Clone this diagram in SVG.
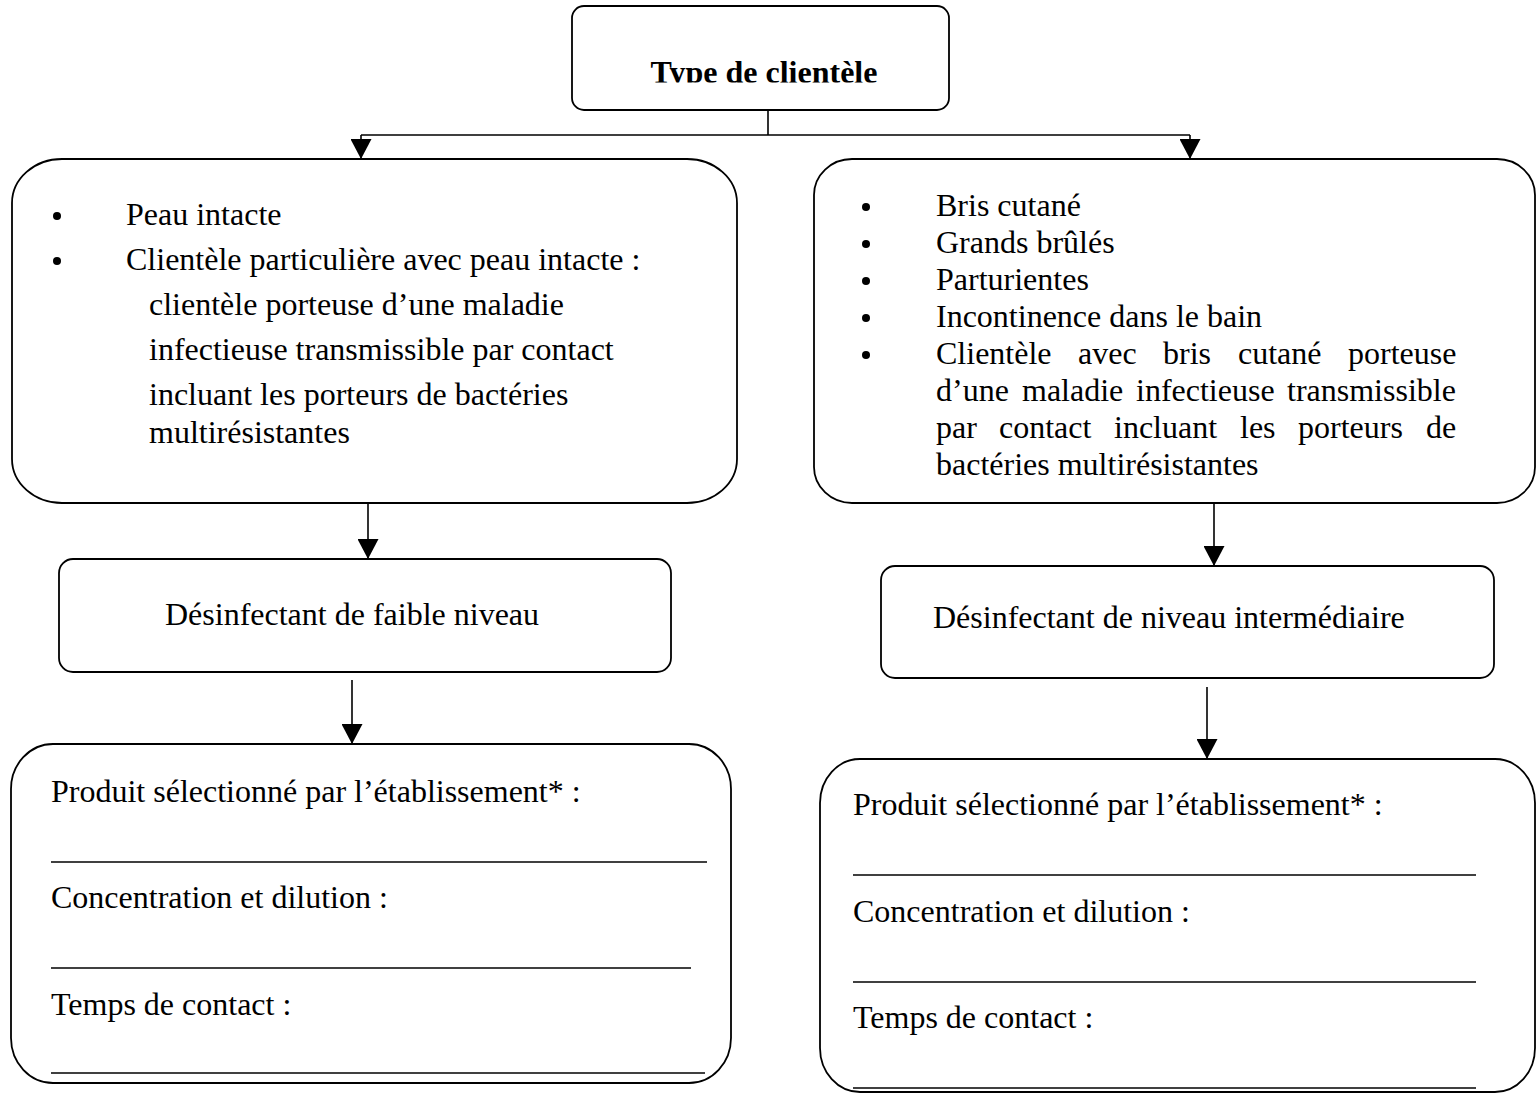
<svg xmlns="http://www.w3.org/2000/svg" width="1536" height="1094" viewBox="0 0 1536 1094">
<style>
.box{fill:#fff;stroke:#000;stroke-width:1.8}
.t{font-family:"Liberation Serif","Times New Roman",serif;font-size:32px;fill:#000}
.b{font-weight:bold}
.bul{fill:#000}
.conn{fill:none;stroke:#000;stroke-width:1.6}
.ul{stroke:#000;stroke-width:1.4}
</style>
<defs>
<marker id="arr" viewBox="0 0 20 21" refX="20" refY="10.5" markerWidth="20" markerHeight="21" markerUnits="userSpaceOnUse" orient="auto">
<path d="M0,0 L20,10.5 L0,21 z" fill="#000"/>
</marker>
<clipPath id="titleClip"><rect x="572" y="6" width="377" height="76.5"/></clipPath>
</defs>
<rect width="1536" height="1094" fill="#fff"/>

<g id="connectors">
<path class="conn" d="M768,110 V135 M361,135 H1190"/>
<path class="conn" d="M361,135 V159" marker-end="url(#arr)"/>
<path class="conn" d="M1190,135 V159" marker-end="url(#arr)"/>
<path class="conn" d="M368,503 V559" marker-end="url(#arr)"/>
<path class="conn" d="M352,680 V744" marker-end="url(#arr)"/>
<path class="conn" d="M1214,503 V566" marker-end="url(#arr)"/>
<path class="conn" d="M1207,687 V759" marker-end="url(#arr)"/>
</g>

<g id="type-clientele">
<rect class="box" x="572" y="6" width="377" height="104" rx="12"/>
<text class="t b" x="764" y="83" text-anchor="middle" clip-path="url(#titleClip)">Type de clientèle</text>
</g>

<g id="peau-intacte">
<rect class="box" x="12" y="159" width="725" height="344" rx="50" ry="44"/>
<circle class="bul" cx="57" cy="216" r="4"/>
<circle class="bul" cx="57" cy="261" r="4"/>
<text class="t" x="126" y="225">Peau intacte</text>
<text class="t" x="126" y="270">Clientèle particulière avec peau intacte :</text>
<text class="t" x="149" y="315">clientèle porteuse d’une maladie</text>
<text class="t" x="149" y="360">infectieuse transmissible par contact</text>
<text class="t" x="149" y="405">incluant les porteurs de bactéries</text>
<text class="t" x="149" y="443">multirésistantes</text>
</g>

<g id="bris-cutane">
<rect class="box" x="814" y="159" width="721" height="344" rx="38" ry="36"/>
<circle class="bul" cx="866" cy="207" r="4"/>
<circle class="bul" cx="866" cy="244" r="4"/>
<circle class="bul" cx="866" cy="281" r="4"/>
<circle class="bul" cx="866" cy="318" r="4"/>
<circle class="bul" cx="866" cy="355" r="4"/>
<text class="t" x="936" y="216">Bris cutané</text>
<text class="t" x="936" y="253">Grands brûlés</text>
<text class="t" x="936" y="290">Parturientes</text>
<text class="t" x="936" y="327">Incontinence dans le bain</text>
<text class="t" y="364"><tspan x="936">Clientèle</tspan><tspan x="1078">avec</tspan><tspan x="1163">bris</tspan><tspan x="1238">cutané</tspan><tspan x="1348">porteuse</tspan></text>
<text class="t" y="401"><tspan x="936">d’une</tspan><tspan x="1022">maladie</tspan><tspan x="1136">infectieuse</tspan><tspan x="1287">transmissible</tspan></text>
<text class="t" y="438"><tspan x="936">par</tspan><tspan x="999">contact</tspan><tspan x="1114">incluant</tspan><tspan x="1240">les</tspan><tspan x="1298">porteurs</tspan><tspan x="1426">de</tspan></text>
<text class="t" x="936" y="475">bactéries multirésistantes</text>
</g>

<g id="faible-niveau">
<rect class="box" x="59" y="559" width="612" height="113" rx="14"/>
<text class="t" x="165" y="625">Désinfectant de faible niveau</text>
</g>

<g id="niveau-intermediaire">
<rect class="box" x="881" y="566" width="613" height="112" rx="14"/>
<text class="t" x="933" y="628">Désinfectant de niveau intermédiaire</text>
</g>

<g id="produit-faible">
<rect class="box" x="11" y="744" width="720" height="339" rx="42" ry="45"/>
<text class="t" x="51" y="802">Produit sélectionné par l’établissement* :</text>
<line class="ul" x1="51" y1="862" x2="707" y2="862"/>
<text class="t" x="51" y="908">Concentration et dilution :</text>
<line class="ul" x1="51" y1="968" x2="691" y2="968"/>
<text class="t" x="51" y="1015">Temps de contact :</text>
<line class="ul" x1="51" y1="1073" x2="705" y2="1073"/>
</g>

<g id="produit-intermediaire">
<rect class="box" x="820" y="759" width="715" height="333" rx="40" ry="44"/>
<text class="t" x="853" y="815">Produit sélectionné par l’établissement* :</text>
<line class="ul" x1="853" y1="875" x2="1476" y2="875"/>
<text class="t" x="853" y="922">Concentration et dilution :</text>
<line class="ul" x1="853" y1="982" x2="1476" y2="982"/>
<text class="t" x="853" y="1028">Temps de contact :</text>
<line class="ul" x1="853" y1="1088" x2="1476" y2="1088"/>
</g>
</svg>
